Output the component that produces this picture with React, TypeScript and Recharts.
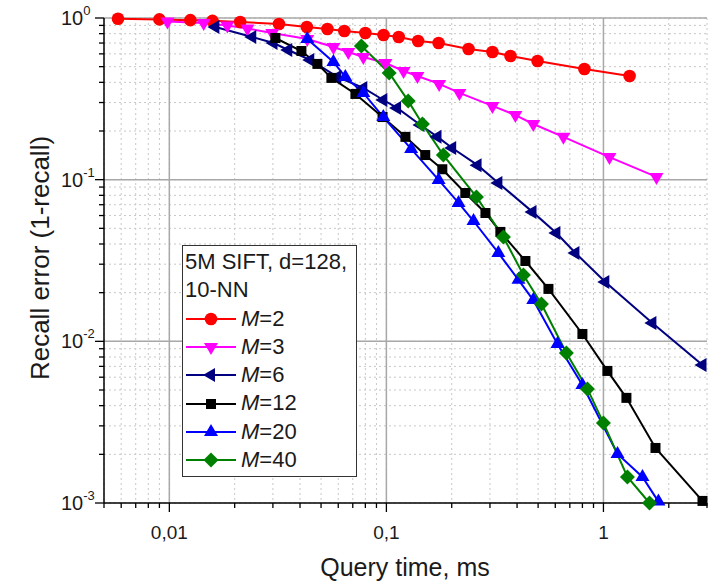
import React from 'react';
import {
  LineChart,
  Line,
  XAxis,
  YAxis,
  CartesianGrid,
  ReferenceLine,
  Legend,
  Label,
} from 'recharts';

const FONT = '"Liberation Sans", Arial, sans-serif';

// Layout
const CHART_W = 710;
const CHART_H = 582;
const MARGIN = { top: 18, right: 3, bottom: 0, left: 0 };
const Y_AXIS_W = 104;
const X_AXIS_H = 79;
const PLOT_LEFT = MARGIN.left + Y_AXIS_W;
const PLOT_BOTTOM = CHART_H - MARGIN.bottom - X_AXIS_H;

// Axis ticks (log axes)
const xMajorTicks = [0.01, 0.1, 1];
const xTickLabels = ['0,01', '0,1', '1'];
const xMinorTicks = [
  0.005, 0.006, 0.007, 0.008, 0.009,
  0.02, 0.03, 0.04, 0.05, 0.06, 0.07, 0.08, 0.09,
  0.2, 0.3, 0.4, 0.5, 0.6, 0.7, 0.8, 0.9,
  2, 3,
];
const yMajorTicks = [0.001, 0.01, 0.1, 1];
const yTickExponents = ['-3', '-2', '-1', '0'];
const yMinorTicks = [
  0.002, 0.003, 0.004, 0.005, 0.006, 0.007, 0.008, 0.009,
  0.02, 0.03, 0.04, 0.05, 0.06, 0.07, 0.08, 0.09,
  0.2, 0.3, 0.4, 0.5, 0.6, 0.7, 0.8, 0.9,
];
const xTicks = [...xMinorTicks, ...xMajorTicks].sort((a, b) => a - b);
const yTicks = [...yMinorTicks, ...yMajorTicks].sort((a, b) => a - b);

// Query time (ms) and recall error per M
const m2Time = [0.0058, 0.009, 0.0125, 0.0158, 0.0212, 0.032, 0.043, 0.0535, 0.064, 0.08, 0.097, 0.114, 0.14, 0.174, 0.239, 0.308, 0.373, 0.497, 0.817, 1.32];
const m2Err = [0.99, 0.98, 0.97, 0.96, 0.945, 0.918, 0.88, 0.855, 0.831, 0.808, 0.785, 0.763, 0.721, 0.7, 0.643, 0.616, 0.582, 0.542, 0.484, 0.438];

const m3Time = [0.0098, 0.0144, 0.0185, 0.0229, 0.0298, 0.0432, 0.057, 0.0668, 0.0783, 0.099, 0.12, 0.139, 0.175, 0.217, 0.308, 0.393, 0.475, 0.654, 1.066, 1.755];
const m3Err = [0.95, 0.93, 0.9, 0.86, 0.808, 0.742, 0.662, 0.616, 0.574, 0.527, 0.47, 0.438, 0.391, 0.344, 0.286, 0.251, 0.221, 0.184, 0.138, 0.104];

const m6Time = [0.0163, 0.0241, 0.0302, 0.0353, 0.0446, 0.0594, 0.0783, 0.0968, 0.112, 0.1435, 0.172, 0.201, 0.263, 0.328, 0.471, 0.607, 0.743, 1.02, 1.68, 2.86];
const m6Err = [0.88, 0.763, 0.7, 0.634, 0.55, 0.432, 0.369, 0.311, 0.278, 0.218, 0.184, 0.157, 0.123, 0.0954, 0.0632, 0.0468, 0.0352, 0.0233, 0.013, 0.00714];

const m12Time = [0.0308, 0.0406, 0.0481, 0.0558, 0.072, 0.096, 0.1224, 0.151, 0.181, 0.231, 0.286, 0.335, 0.437, 0.558, 0.8, 1.043, 1.276, 1.737, 2.86];
const m12Err = [0.752, 0.625, 0.52, 0.426, 0.339, 0.244, 0.184, 0.142, 0.116, 0.0827, 0.0622, 0.0475, 0.0314, 0.0211, 0.0111, 0.00656, 0.00447, 0.00219, 0.00103];

const m20Time = [0.0432, 0.057, 0.0647, 0.0783, 0.0968, 0.13, 0.174, 0.215, 0.252, 0.328, 0.406, 0.475, 0.614, 0.8, 1.161, 1.513, 1.792];
const m20Err = [0.742, 0.535, 0.432, 0.344, 0.244, 0.155, 0.0996, 0.0718, 0.0555, 0.0352, 0.024, 0.018, 0.00964, 0.00537, 0.00201, 0.00145, 0.00102];

const m40Time = [0.0767, 0.103, 0.126, 0.1466, 0.183, 0.26, 0.346, 0.428, 0.518, 0.675, 0.844, 1.0, 1.29, 1.63];
const m40Err = [0.671, 0.457, 0.307, 0.221, 0.142, 0.0782, 0.0442, 0.0257, 0.017, 0.00848, 0.00508, 0.00313, 0.00145, 0.001];

type Shape = 'circle' | 'down' | 'left' | 'square' | 'up' | 'diamond';

const toRows = (time: number[], err: number[]) =>
  time.map((t, i) => ({ time: t, err: err[i] }));

const SERIES: { name: string; color: string; shape: Shape; rows: { time: number; err: number }[] }[] = [
  { name: 'M=2', color: '#ff0000', shape: 'circle', rows: toRows(m2Time, m2Err) },
  { name: 'M=3', color: '#ff00ff', shape: 'down', rows: toRows(m3Time, m3Err) },
  { name: 'M=6', color: '#000080', shape: 'left', rows: toRows(m6Time, m6Err) },
  { name: 'M=12', color: '#000000', shape: 'square', rows: toRows(m12Time, m12Err) },
  { name: 'M=20', color: '#0000ff', shape: 'up', rows: toRows(m20Time, m20Err) },
  { name: 'M=40', color: '#008000', shape: 'diamond', rows: toRows(m40Time, m40Err) },
];

function Marker({ cx, cy, shape, color }: { cx: number; cy: number; shape: Shape; color: string }) {
  if (cx == null || cy == null || isNaN(cx) || isNaN(cy)) return null;
  switch (shape) {
    case 'circle':
      return <circle cx={cx} cy={cy} r={6.3} fill={color} />;
    case 'down':
      return <polygon points={`${cx - 7},${cy - 4} ${cx + 7},${cy - 4} ${cx},${cy + 8}`} fill={color} />;
    case 'up':
      return <polygon points={`${cx - 7},${cy + 4} ${cx + 7},${cy + 4} ${cx},${cy - 8}`} fill={color} />;
    case 'left':
      return <polygon points={`${cx + 4},${cy - 7} ${cx + 4},${cy + 7} ${cx - 8},${cy}`} fill={color} />;
    case 'square':
      return <rect x={cx - 5} y={cy - 5} width={10} height={10} fill={color} />;
    case 'diamond':
      return <polygon points={`${cx},${cy - 7.5} ${cx + 7.5},${cy} ${cx},${cy + 7.5} ${cx - 7.5},${cy}`} fill={color} />;
  }
  return null;
}

function XTick(props: any) {
  const { x, payload } = props;
  const v = payload.value;
  const mi = xMajorTicks.indexOf(v);
  const major = mi >= 0;
  return (
    <g>
      <line x1={x} x2={x} y1={PLOT_BOTTOM} y2={PLOT_BOTTOM + (major ? 9 : 5)} stroke="#000" strokeWidth={1.3} />
      {major && (
        <text x={x} y={PLOT_BOTTOM + 36} textAnchor="middle" fontSize={19} fontFamily={FONT} fill="#1a1a1a">
          {xTickLabels[mi]}
        </text>
      )}
    </g>
  );
}

function YTick(props: any) {
  const { y, payload } = props;
  const v = payload.value;
  const mi = yMajorTicks.indexOf(v);
  const major = mi >= 0;
  return (
    <g>
      <line x1={PLOT_LEFT - (major ? 9 : 5)} x2={PLOT_LEFT} y1={y} y2={y} stroke="#000" strokeWidth={1.3} />
      {major && (
        <text x={61} y={y + 7} fontSize={20} fontFamily={FONT} fill="#1a1a1a">
          10
          <tspan dy={-10} fontSize={13}>{yTickExponents[mi]}</tspan>
        </text>
      )}
    </g>
  );
}

function LegendBox() {
  return (
    <div
      style={{
        width: 175,
        height: 232,
        boxSizing: 'border-box',
        border: '1.5px solid #333',
        background: '#fff',
        padding: '2px 0 0 2px',
        fontFamily: FONT,
        fontSize: 22,
        lineHeight: '28.3px',
        color: '#1a1a1a',
        textAlign: 'left',
      }}
    >
      <div>5M SIFT, d=128,</div>
      <div>10-NN</div>
      {SERIES.map((s) => (
        <div key={s.name} style={{ display: 'flex', alignItems: 'center', height: 28.3 }}>
          <svg width={56} height={20} style={{ flex: 'none' }}>
            <line x1={1} x2={51} y1={10} y2={10} stroke={s.color} strokeWidth={2} />
            <Marker cx={26} cy={10} shape={s.shape} color={s.color} />
          </svg>
          <span>
            <i>M</i>
            {s.name.slice(1)}
          </span>
        </div>
      ))}
    </div>
  );
}

export default function App() {
  return (
    <div style={{ position: 'absolute', left: 0, top: 0, background: '#fff' }}>
      <LineChart width={CHART_W} height={CHART_H} margin={MARGIN}>
        <CartesianGrid stroke="#c8c8c8" strokeDasharray="2 3" />
        <XAxis
          dataKey="time"
          type="number"
          scale="log"
          domain={[0.005, 3]}
          ticks={xTicks}
          interval={0}
          height={X_AXIS_H}
          tickLine={false}
          axisLine={{ stroke: '#000', strokeWidth: 1.5 }}
          tick={<XTick />}
        >
          <Label
            content={() => (
              <text x={405} y={567} textAnchor="middle" dominantBaseline="central" fontSize={25} fontFamily={FONT} fill="#1a1a1a">
                Query time, ms
              </text>
            )}
          />
        </XAxis>
        <YAxis
          dataKey="err"
          type="number"
          scale="log"
          domain={[0.001, 1]}
          ticks={yTicks}
          interval={0}
          width={Y_AXIS_W}
          tickLine={false}
          axisLine={{ stroke: '#000', strokeWidth: 1.5 }}
          tick={<YTick />}
        >
          <Label
            content={() => (
              <text
                x={40}
                y={258}
                transform="rotate(-90 40 258)"
                textAnchor="middle"
                dominantBaseline="central"
                fontSize={26}
                fontFamily={FONT}
                fill="#1a1a1a"
              >
                Recall error (1-recall)
              </text>
            )}
          />
        </YAxis>
        {xMajorTicks.map((v) => (
          <ReferenceLine key={`x${v}`} x={v} stroke="#a8a8a8" strokeWidth={1.5} />
        ))}
        {yMajorTicks.slice(1).map((v) => (
          <ReferenceLine key={`y${v}`} y={v} stroke="#a8a8a8" strokeWidth={1.5} />
        ))}
        {SERIES.map((s) => (
          <Line
            key={s.name}
            name={s.name}
            data={s.rows}
            dataKey="err"
            stroke={s.color}
            strokeWidth={2}
            isAnimationActive={false}
            dot={(p: any) => <Marker key={`${s.name}-${p.index}`} cx={p.cx} cy={p.cy} shape={s.shape} color={s.color} />}
            activeDot={false}
          />
        ))}
        <Legend
          layout="vertical"
          align="center"
          verticalAlign="middle"
          wrapperStyle={{ left: 182, top: 245, width: 175, height: 232 }}
          content={<LegendBox />}
        />
      </LineChart>
    </div>
  );
}
